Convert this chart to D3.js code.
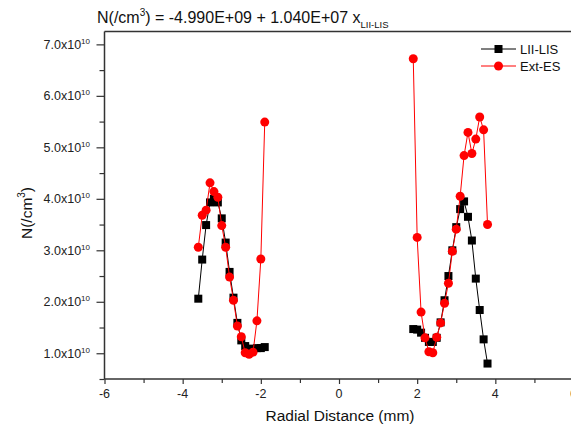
<!DOCTYPE html>
<html>
<head>
<meta charset="utf-8">
<script src="https://cdn.jsdelivr.net/npm/d3@7"></script>
<style>
  body { margin: 0; background: #fff; }
  svg { font-family: "Liberation Sans", Arial, sans-serif; }
</style>
</head>
<body>
<svg id="chart" width="571" height="435"></svg>
<script>
const width = 571;
const height = 435;

// data (y in units of 1e10 /cm^3)
const liiX = [-3.6,-3.5,-3.4,-3.3,-3.2,-3.1,-3.0,-2.9,-2.8,-2.7,-2.6,-2.5,-2.4,-2.3,-2.2,-2.1,-2.0,-1.9,
              1.9,2.0,2.1,2.2,2.3,2.4,2.5,2.6,2.7,2.8,2.9,3.0,3.1,3.2,3.3,3.4,3.5,3.6,3.7,3.8];
const liiY = [2.06,2.82,3.49,3.93,4.0,3.93,3.62,3.15,2.58,2.08,1.59,1.25,1.14,1.09,1.08,1.10,1.10,1.12,
              1.47,1.46,1.40,1.30,1.22,1.22,1.30,1.60,2.03,2.50,3.00,3.45,3.80,3.95,3.65,3.19,2.45,1.84,1.27,0.80];
const extX = [-3.6,-3.5,-3.4,-3.3,-3.2,-3.1,-3.0,-2.9,-2.8,-2.7,-2.6,-2.5,-2.4,-2.3,-2.2,-2.1,-2.0,-1.9,
              1.9,2.0,2.1,2.2,2.3,2.4,2.5,2.6,2.7,2.8,2.9,3.0,3.1,3.2,3.3,3.4,3.5,3.6,3.7,3.8];
const extY = [3.06,3.68,3.78,4.31,4.14,4.03,3.48,3.06,2.48,2.03,1.53,1.32,1.01,0.98,1.02,1.63,2.83,5.49,
              6.72,3.25,1.80,1.30,1.03,1.01,1.31,1.59,1.97,2.36,2.98,3.41,4.05,4.84,5.29,4.88,5.16,5.59,5.34,3.50];
const xTicks = [-6,-4,-2,0,2,4,6];
const yTicks = [1,2,3,4,5,6,7];
const seriesNames = ["LII-LIS","Ext-ES"];

const svg = d3.select("#chart");

const x = d3.scaleLinear().domain([-6, 6]).range([104.5, 573.5]);
const y = d3.scaleLinear().domain([0.5, 7.25]).range([379, 31.5]);

//------------ Axes ---------------------------------------------------------//
const axisColor = "#333";

const xAxis = svg.append("g").attr("transform", `translate(0,379)`)
    .call(d3.axisBottom(x).tickValues(d3.range(-6, 7, 1)).tickSize(5).tickFormat(""));
xAxis.select(".domain").remove();
xAxis.selectAll("line").attr("stroke", axisColor).attr("stroke-width", 1.2);
xAxis.selectAll(".tick").filter(d => d % 2 !== 0).select("line").attr("y2", 4);

svg.append("g").selectAll("text")
    .data(xTicks)
    .join("text")
    .attr("x", d => x(d))
    .attr("y", 398)
    .attr("text-anchor", "middle")
    .attr("font-size", 12.5)
    .attr("fill", "#222")
    .text(d => d);

const yAxis = svg.append("g").attr("transform", `translate(104.5,0)`)
    .call(d3.axisLeft(y).tickValues(d3.range(0.5, 7.3, 0.5)).tickSize(8).tickFormat(""));
yAxis.select(".domain").remove();
yAxis.selectAll("line").attr("stroke", axisColor).attr("stroke-width", 1.2);
yAxis.selectAll(".tick").filter(d => Math.abs(d - Math.round(d)) > 0.01).select("line").attr("x2", -5);

const yLabels = svg.append("g").selectAll("text")
    .data(yTicks)
    .join("text")
    .attr("x", 90)
    .attr("y", d => y(d) + 4.5)
    .attr("text-anchor", "end")
    .attr("font-size", 12.5)
    .attr("fill", "#222");
yLabels.append("tspan").text(d => d.toFixed(1) + "x10");
yLabels.append("tspan").attr("font-size", 8).attr("dy", -5).text("10");

// frame lines (left, bottom, top)
svg.append("line").attr("x1", 104.5).attr("x2", 104.5).attr("y1", 31.5).attr("y2", 379)
    .attr("stroke", axisColor).attr("stroke-width", 1.5);
svg.append("line").attr("x1", 104.5).attr("x2", width).attr("y1", 379).attr("y2", 379)
    .attr("stroke", axisColor).attr("stroke-width", 1.5);
svg.append("line").attr("x1", 104.5).attr("x2", width).attr("y1", 31.5).attr("y2", 31.5)
    .attr("stroke", axisColor).attr("stroke-width", 1.5);

//------------ Titles -------------------------------------------------------//
const title = svg.append("text").attr("x", 97).attr("y", 23).attr("font-size", 16).attr("fill", "#111");
title.append("tspan").text("N(/cm");
title.append("tspan").attr("font-size", 10).attr("dy", -7).text("3");
title.append("tspan").attr("dy", 7).text(") = -4.990E+09 + 1.040E+07 x");
title.append("tspan").attr("font-size", 9.5).attr("dy", 5).text("LII-LIS");

svg.append("text")
    .attr("x", 340).attr("y", 421)
    .attr("text-anchor", "middle")
    .attr("font-size", 15.5)
    .attr("fill", "#111")
    .text("Radial Distance (mm)");

const yTitle = svg.append("text")
    .attr("transform", "translate(32,213) rotate(-90)")
    .attr("text-anchor", "middle")
    .attr("font-size", 15.5)
    .attr("fill", "#111");
yTitle.append("tspan").text("N(/cm");
yTitle.append("tspan").attr("font-size", 10).attr("dy", -7).text("3");
yTitle.append("tspan").attr("dy", 7).text(")");

//------------ Series -------------------------------------------------------//
function segments(xs, ys) {
    // split at the gap between the two sides
    const pts = xs.map((v, i) => [v, ys[i]]);
    return [pts.filter(p => p[0] < 0), pts.filter(p => p[0] > 0)];
}

const line = d3.line().x(d => x(d[0])).y(d => y(d[1]));

const liiPts = segments(liiX, liiY);
const extPts = segments(extX, extY);

svg.append("g").selectAll("path")
    .data(liiPts)
    .join("path")
    .attr("d", line)
    .attr("fill", "none")
    .attr("stroke", "#000")
    .attr("stroke-width", 1);

svg.append("g").selectAll("rect")
    .data(liiPts.flat())
    .join("rect")
    .attr("x", d => x(d[0]) - 4)
    .attr("y", d => y(d[1]) - 4)
    .attr("width", 8)
    .attr("height", 8)
    .attr("fill", "#000");

svg.append("g").selectAll("path")
    .data(extPts)
    .join("path")
    .attr("d", line)
    .attr("fill", "none")
    .attr("stroke", "#f00")
    .attr("stroke-width", 1);

svg.append("g").selectAll("circle")
    .data(extPts.flat())
    .join("circle")
    .attr("cx", d => x(d[0]))
    .attr("cy", d => y(d[1]))
    .attr("r", 4.5)
    .attr("fill", "#f00");

//------------ Legend -------------------------------------------------------//
const legend = svg.append("g").attr("transform", "translate(481,49)");
const legendColors = ["#000", "#f00"];
seriesNames.forEach((name, i) => {
    const g = legend.append("g").attr("transform", `translate(0,${i * 17})`);
    g.append("line").attr("x1", 0).attr("x2", 35).attr("stroke", legendColors[i]).attr("stroke-width", 1);
    if (i === 0) {
        g.append("rect").attr("x", 13.5).attr("y", -4).attr("width", 8).attr("height", 8).attr("fill", "#000");
    } else {
        g.append("circle").attr("cx", 17.5).attr("r", 4.5).attr("fill", "#f00");
    }
    g.append("text").attr("x", 39).attr("y", 5).attr("font-size", 13).attr("fill", "#111").text(name);
});
</script>
</body>
</html>
